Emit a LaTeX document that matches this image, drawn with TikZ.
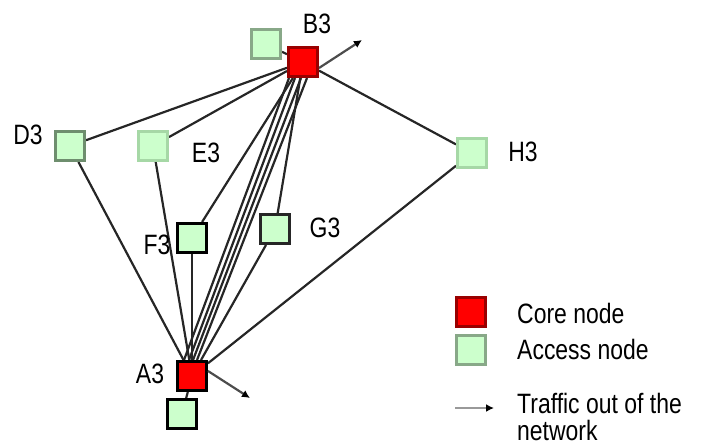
\documentclass[tikz,border=0pt]{standalone}
\usepackage{fontspec}
\setmainfont[FakeStretch=0.82]{Liberation Sans}
\usetikzlibrary{arrows.meta,backgrounds}
\definecolor{accfill}{HTML}{CCFFCC}
\definecolor{darkred}{HTML}{990000}
\definecolor{accdark}{HTML}{6E8E6E}
\definecolor{acclight}{HTML}{A6D8A6}
\definecolor{accmid}{HTML}{88A888}
\tikzset{
  corebox/.style={draw=darkred, fill=red, line width=3pt, minimum size=29pt, inner sep=0pt},
  accbox/.style={draw=accmid, fill=accfill, line width=3pt, minimum size=29pt, inner sep=0pt},
  lab/.style={font=\fontsize{28}{30}\selectfont, inner sep=0pt},
  link/.style={draw=black!85, line width=2.2pt},
  outarrow/.style={draw=black!70, line width=2.2pt, -{Latex[length=8pt,width=8pt,color=black]}}
}
\begin{document}
\begin{tikzpicture}[x=1pt,y=-1pt]
\useasboundingbox (0,0) rectangle (701,445);
% nodes
\node[corebox] (B3) at (303,62) {};
\node[accbox] (B3a) at (266,44) {};
\node[accbox, draw=accdark] (D3) at (70,146) {};
\node[accbox, draw=acclight] (E3) at (153,146) {};
\node[accbox, draw=black] (F3) at (192,238) {};
\node[accbox, draw=black!85] (G3) at (275,229) {};
\node[accbox, draw=acclight] (H3) at (472,153) {};
\node[corebox, draw=black] (A3) at (192,376) {};
\node[accbox, draw=black] (A3a) at (182,414) {};
% labels
\node[lab] (lB3) at (317,24) {B3};
\node[lab] (lD3) at (28,135) {D3};
\node[lab] (lE3) at (206,153) {E3};
\node[lab] (lF3) at (157,245) {F3};
\node[lab] (lG3) at (325,228) {G3};
\node[lab] (lH3) at (523,152) {H3};
\node[lab] (lA3) at (150,374) {A3};
% arrow end points
\coordinate (B3out) at (362,40);
\coordinate (A3out) at (250,398);
% edges behind the nodes
\begin{scope}[on background layer]
\draw[link] (B3) -- (B3a);
\draw[link] (A3) -- (A3a);
\draw[link] (B3) -- (D3);
\draw[link] (B3) -- (E3);
\draw[link] (B3) -- (F3);
\draw[link] (B3) -- (G3);
\draw[link] (B3) -- (H3);
\draw[link] ([xshift=-14pt]B3.south) -- ([xshift=-8pt]A3.north);
\draw[link] ([xshift=-8pt]B3.south) -- ([xshift=-3pt]A3.north);
\draw[link] ([xshift=-2pt]B3.south) -- ([xshift=1pt]A3.north);
\draw[link] ([xshift=4pt]B3.south) -- ([xshift=5pt]A3.north);
\draw[link] (A3) -- (D3);
\draw[link] (A3) -- (E3);
\draw[link] (A3) -- (F3);
\draw[link] (A3) -- (G3);
\draw[link] (A3) -- (H3);
\end{scope}
\draw[outarrow] ([yshift=-6pt]B3.east) -- (B3out);
\draw[outarrow] ([yshift=5pt]A3.east) -- (A3out);
% legend
\node[corebox] (Lcore) at (471,312) {};
\node[accbox, draw=accmid] (Lacc) at (471,350) {};
\node[lab, anchor=base west] (Tcore) at (517,323) {Core node};
\node[lab, anchor=base west] (Tacc) at (517,359) {Access node};
\coordinate (Ls) at (455,408);
\coordinate (Le) at (494,408);
\draw[outarrow, draw=black!40] (Ls) -- (Le);
\node[lab, anchor=base west] (Ttr) at (517,413) {Traffic out of the};
\node[lab, anchor=base west] (Tnet) at (517,440) {network};
\end{tikzpicture}
\end{document}
